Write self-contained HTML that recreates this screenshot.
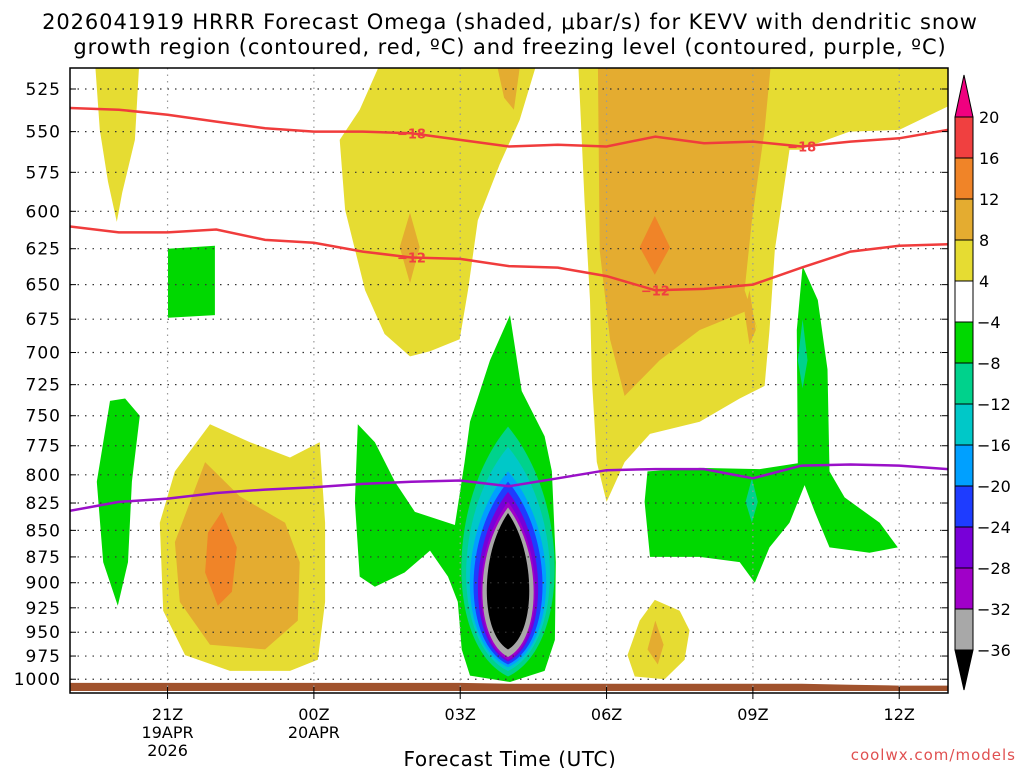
<!DOCTYPE html>
<html><head><meta charset="utf-8">
<style>
html,body{margin:0;padding:0;background:#fff;}
svg{display:block;font-family:"DejaVu Sans","Liberation Sans",sans-serif;}
</style></head>
<body>
<svg id="chart" width="1024" height="768" viewBox="0 0 1024 768" xmlns="http://www.w3.org/2000/svg">
<defs><clipPath id="plotclip"><rect x="70" y="68" width="878" height="625"/></clipPath></defs>
<text x="510" y="29" text-anchor="middle" font-size="21" letter-spacing="0.9">2026041919 HRRR Forecast Omega (shaded, μbar/s) for KEVV with dendritic snow</text>
<text x="510" y="54" text-anchor="middle" font-size="21" letter-spacing="0.9">growth region (contoured, red, ºC) and freezing level (contoured, purple, ºC)</text>
<g id="fills" clip-path="url(#plotclip)"></g>
<g id="grid"></g>
<g id="lines" clip-path="url(#plotclip)"></g>
<rect x="70" y="68" width="878" height="625" fill="none" stroke="#000" stroke-width="1.5"/>
<g id="axes"></g>
<g id="cbar"></g>
<text x="510" y="766" text-anchor="middle" font-size="20" letter-spacing="0.6">Forecast Time (UTC)</text>
<text x="1016" y="760" text-anchor="end" font-size="15" fill="#e05050" letter-spacing="1">coolwx.com/models</text>
</svg>
<script>
// ---- data ----
const pressureTicks=[525,550,575,600,625,650,675,700,725,750,775,800,825,850,875,900,925,950,975,1000];
const timeTickHours=[2,5,8,11,14,17];
const timeTickLabels=["21Z","00Z","03Z","06Z","09Z","12Z"];
const dateLabels=[["19APR","2026"],["20APR"],[],[],[],[]];
const lineHours=[0,1,2,3,4,5,6,7,8,9,10,11,12,13,14,15,16,17,18];
const minus18=[536,537,540,544,548,550,550,551,555,559,558,559,553,557,556,559,556,554,549];
const minus12=[610,614,614,612,619,621,627,631,632,637,638,644,654,653,650,638,627,623,622];
const freezing=[832,824,821,816,813,811,808,806,805,810,803,796,795,795,803,792,791,792,795];
const ground=[1004,1004,1004,1004,1004,1004,1004,1004,1004,1005,1005,1005,1005,1005,1005,1005,1006,1007,1007];
const cbLevels=["20","16","12","8","4","-4","-8","-12","-16","-20","-24","-28","-32","-36"];
const cbColors=["#f0007f","#f04040","#f08428","#e4ac30","#e6dc32","#ffffff","#00d800","#00d28c","#00c8c8","#00a0ff","#1e3cff","#7800d8","#a000c8","#a8a8a8","#000000"];
// shaded regions [hour, hPa]
const yellowA=[[0.5,505],[1.43,505],[1.33,555],[1.07,588],[0.96,607],[0.78,581],[0.61,549]];
const yellowB=[[6.45,505],[9.63,505],[9.22,543],[8.81,570],[8.36,606],[8.16,654],[7.99,690],[7.38,699],[6.97,703],[6.45,686],[6.05,654],[5.64,599],[5.53,555],[5.94,537]];
const orangeB1=[[8.7,505],[9.26,505],[9.1,537],[8.9,530]];
const orangeB2=[[6.97,601],[7.17,624],[6.97,649],[6.76,624]];
const yellowC=[[10.41,505],[18.3,505],[18.3,531],[17.0,549],[15.98,550],[14.96,561],[14.75,561],[14.45,626],[14.34,683],[14.24,726],[13.73,736],[12.91,755],[11.89,765],[11.37,789],[11.0,824],[10.8,789],[10.7,721],[10.66,661],[10.55,594]];
const orangeC=[[10.82,505],[14.39,505],[14.24,549],[13.98,606],[13.83,654],[14.1,683],[13.93,668],[12.91,683],[12.09,706],[11.37,734],[11.07,690],[10.86,626]];
const darkC1=[[11.99,603],[12.3,624],[11.99,643],[11.68,624]];
const orangeC2=[[13.93,654],[14.06,683],[13.93,694],[13.83,670]];
const yellowD=[[2.87,757],[3.69,772],[4.51,785],[5.12,772],[5.23,843],[5.23,919],[5.08,979],[4.51,991],[3.28,991],[2.36,974],[1.91,928],[1.84,843],[2.15,797]];
const orangeD=[[2.77,789],[3.48,819],[4.41,843],[4.71,880],[4.67,938],[4.0,968],[2.87,963],[2.25,919],[2.15,861]];
const darkD=[[3.11,833],[3.42,866],[3.32,909],[3.03,923],[2.77,890],[2.83,852]];
const yellowE=[[11.99,917],[12.5,928],[12.7,948],[12.6,979],[12.19,1000],[11.58,997],[11.43,974],[11.68,938]];
const orangeE=[[12.0,938],[12.17,963],[12.05,984],[11.84,968]];
const greenA=[[0.82,738],[1.13,736],[1.43,750],[1.27,806],[1.19,880],[0.98,923],[0.68,880],[0.55,806]];
const greenB=[[2.01,625],[2.97,623],[2.97,672],[2.01,674]];
const greenC=[[9.02,672],[9.26,730],[9.73,767],[9.88,797],[9.96,880],[9.94,958],[9.73,991],[9.02,1003],[8.2,996],[8.03,968],[7.95,919],[7.75,894],[7.38,869],[6.86,890],[6.25,904],[5.94,894],[5.84,824],[5.9,757],[6.25,772],[6.66,806],[7.07,833],[7.89,845],[8.09,789],[8.2,755],[8.61,706]];
const greenD=[[11.84,797],[12.91,794],[14.14,795],[14.92,790],[14.9,683],[15.02,637],[15.33,661],[15.53,713],[15.57,797],[15.88,820],[16.6,843],[16.97,866],[16.39,871],[15.57,866],[15.27,833],[15.06,809],[14.75,843],[14.34,866],[14.04,900],[13.73,880],[12.91,875],[11.89,875],[11.78,824]];
const tealD1=[[15.02,675],[15.12,706],[15.02,728],[14.92,706]];
const tealD2=[[13.98,803],[14.1,824],[13.98,843],[13.85,824]];
// core lens levels
const coreCenter=8.98;
const coreColor=[7,8,9,10,11,12,13,14];
const coreTop=[759,776,797,806,815,824,829,834];
const coreBottom=[997,991,987,984,981,979,976,968];
const coreHalfWidth=[0.88,0.79,0.72,0.65,0.58,0.53,0.5,0.43];
const coreRound=[1.45,1.45,1.45,1.45,1.42,1.4,1.4,1.35];

// ---- scales ----
const X0=70,X1=948,Y0=89;
function xs(h){return X0+h*(X1-X0)/18;}
function ys(p){return Y0+916*Math.log(p/525);}
const NS="http://www.w3.org/2000/svg";
function mk(tag,attrs,parent){const e=document.createElementNS(NS,tag);for(const k in attrs)e.setAttribute(k,attrs[k]);parent.appendChild(e);return e;}
const fills=document.getElementById('fills');
function poly(pts,color,name){
  const e=mk('polygon',{points:pts.map(q=>xs(q[0]).toFixed(1)+','+ys(q[1]).toFixed(1)).join(' '),fill:color},fills);
  
  
}
const Y=cbColors[4],O=cbColors[3],O2=cbColors[2],G=cbColors[6],T=cbColors[7];
poly(yellowA,Y,'shade-4-8');poly(yellowB,Y,'shade-4-8');poly(orangeB1,O,'shade-8-12');poly(orangeB2,O,'shade-8-12');
poly(yellowC,Y,'shade-4-8');poly(orangeC,O,'shade-8-12');poly(darkC1,O2,'shade-12-16');poly(orangeC2,O,'shade-8-12');
poly(yellowD,Y,'shade-4-8');poly(orangeD,O,'shade-8-12');poly(darkD,O2,'shade-12-16');
poly(yellowE,Y,'shade-4-8');poly(orangeE,O,'shade-8-12');
poly(greenA,G,'shade-minus4-8');poly(greenB,G,'shade-minus4-8');poly(greenC,G,'shade-minus4-8');poly(greenD,G,'shade-minus4-8');
poly(tealD1,T,'shade-minus8-12');poly(tealD2,T,'shade-minus8-12');
for(let i=0;i<coreTop.length;i++){
  const cx=xs(coreCenter),t=ys(coreTop[i]),b=ys(coreBottom[i]),w=coreHalfWidth[i]*(X1-X0)/18*coreRound[i],hh=b-t;
  const d=`M${cx},${t} C${cx+w},${t+hh*0.3} ${cx+w},${b-hh*0.12} ${cx},${b} C${cx-w},${b-hh*0.12} ${cx-w},${t+hh*0.3} ${cx},${t}Z`;
  const e=mk('path',{d:d,fill:cbColors[coreColor[i]]},fills);
  
  
}
// ground
{
  let d=`M${xs(0)},${ys(1013)} `+lineHours.map((h,i)=>`L${xs(h).toFixed(1)},${ys(ground[i]).toFixed(1)}`).join(' ')+` L${xs(18)},${ys(1013)}Z`;
  const e=mk('path',{d:d,fill:'#a0522d'},fills);
  
  
}
// grid + axes
const grid=document.getElementById('grid'),axes=document.getElementById('axes');
pressureTicks.forEach(p=>{
  const y=ys(p);
  const g=mk('line',{x1:70,x2:948,y1:y,y2:y,stroke:'#333','stroke-width':1.2,'stroke-dasharray':'1.5 6'},grid);
  
  
  mk('line',{x1:70,x2:76,y1:y,y2:y,stroke:'#000'},axes);
  mk('line',{x1:942,x2:948,y1:y,y2:y,stroke:'#000'},axes);
  const t=mk('text',{x:61,y:y+6,'text-anchor':'end','font-size':17,'letter-spacing':1},axes);
  t.textContent=p;
  
  
});
timeTickHours.forEach((h,i)=>{
  const x=xs(h);
  const g=mk('line',{x1:x,x2:x,y1:68,y2:693,stroke:'#999','stroke-width':1.2,'stroke-dasharray':'1.5 5'},grid);
  
  
  mk('line',{x1:x,x2:x,y1:687,y2:699,stroke:'#000'},axes);
  const t=mk('text',{x:x,y:720,'text-anchor':'middle','font-size':16},axes);
  t.textContent=timeTickLabels[i];
  
  
  dateLabels[i].forEach((s,j)=>{
    const d=mk('text',{x:x,y:738+j*18,'text-anchor':'middle','font-size':16},axes);
    d.textContent=s;
    
    
  });
});
// contour lines
const lines=document.getElementById('lines');
function cline(vals,color,name){
  const d=lineHours.map((h,i)=>(i?'L':'M')+xs(h).toFixed(1)+','+ys(vals[i]).toFixed(1)).join(' ');
  const e=mk('path',{d:d,fill:'none',stroke:color,'stroke-width':2.5},lines);
  
  
}
cline(minus18,'#f03c3c','contour-minus18');
cline(minus12,'#f03c3c','contour-minus12');
cline(freezing,'#9a10c8','freezing-level');
function clabel(h,vals,txt){
  const i=Math.round(h);const y=ys(vals[i]);const x=xs(h);
  const t=mk('text',{x:x,y:y+5,'text-anchor':'middle','font-size':13,'font-weight':'bold',fill:'#f04040'},lines);
  t.textContent=txt;
  
  
}
clabel(7,minus18,'−18');clabel(15,minus18,'−18');clabel(7,minus12,'−12');clabel(12,minus12,'−12');
// colorbar
const cb=document.getElementById('cbar');
const cbX=955,cbW=18,cbTop=117,cbStep=41;
{const e=mk('polygon',{points:`${cbX},${cbTop} ${cbX+cbW},${cbTop} ${cbX+cbW/2},${cbTop-42}`,fill:cbColors[0],stroke:'#000'},cb);
}
for(let i=0;i<13;i++){
  const e=mk('rect',{x:cbX,y:cbTop+i*cbStep,width:cbW,height:cbStep,fill:cbColors[i+1],stroke:'#000'},cb);
  
  
}
{const yb=cbTop+13*cbStep;const e=mk('polygon',{points:`${cbX},${yb} ${cbX+cbW},${yb} ${cbX+cbW/2},${yb+40}`,fill:'#000',stroke:'#000'},cb);
}
cbLevels.forEach((s,i)=>{
  const t=mk('text',{x:cbX+cbW+(s[0]==='-'?4:6),y:cbTop+i*cbStep+6,'font-size':16},cb);
  t.textContent=s.replace('-','−');
  
  
});
</script>
</body></html>
